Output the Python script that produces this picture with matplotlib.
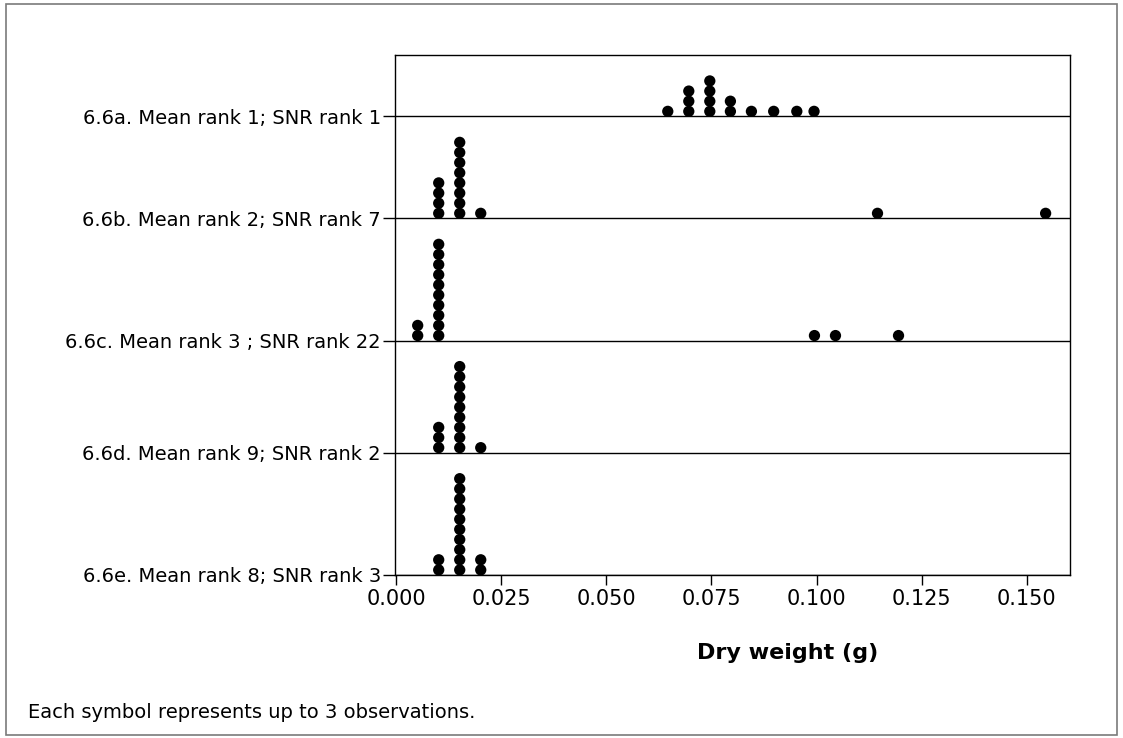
import matplotlib
matplotlib.use("Agg")
import matplotlib.pyplot as plt
from matplotlib.patches import Rectangle

# Row labels (top to bottom)
row_labels = [
    "6.6a. Mean rank 1; SNR rank 1",
    "6.6b. Mean rank 2; SNR rank 7",
    "6.6c. Mean rank 3 ; SNR rank 22",
    "6.6d. Mean rank 9; SNR rank 2",
    "6.6e. Mean rank 8; SNR rank 3",
]

# Dot positions (dry weight bins, g) and number of symbols stacked in each bin
a_x = [0.0646, 0.0696, 0.0746, 0.0795, 0.0845, 0.0898, 0.0953, 0.0994]
a_n = [1, 3, 4, 2, 1, 1, 1, 1]
b_x = [0.0101, 0.0151, 0.0201, 0.1145, 0.1545]
b_n = [4, 8, 1, 1, 1]
c_x = [0.0051, 0.0101, 0.0995, 0.1045, 0.1195]
c_n = [2, 10, 1, 1, 1]
d_x = [0.0101, 0.0151, 0.0201]
d_n = [3, 9, 1]
e_x = [0.0101, 0.0151, 0.0201]
e_n = [2, 10, 2]

x_ticks = [0.000, 0.025, 0.050, 0.075, 0.100, 0.125, 0.150]
x_label = "Dry weight (g)"
footnote = "Each symbol represents up to 3 observations."

rows = [(a_x, a_n), (b_x, b_n), (c_x, c_n), (d_x, d_n), (e_x, e_n)]

W, H, DPI = 1123, 738, 100
fig = plt.figure(figsize=(W / DPI, H / DPI), dpi=DPI)
fig.patch.set_facecolor("white")

# outer frame
fig.add_artist(Rectangle((6 / W, 3 / H), 1111 / W, 731 / H, transform=fig.transFigure,
                         fill=False, edgecolor="#7a7a7a", linewidth=1.2))

left, right, top, bottom = 395, 1070, 55, 575
ax = fig.add_axes([left / W, (H - bottom) / H, (right - left) / W, (bottom - top) / H])

# vertical layout: each row is as tall as its highest stack plus a margin
step = 10.2
margin = 21.0
heights = [max(n) * step + margin for _, n in rows]
total = sum(heights)
baselines = []
y = total
for h in heights:
    y -= h
    baselines.append(y)

for (xs, ns), base in zip(rows, baselines):
    px, py = [], []
    for x, n in zip(xs, ns):
        for k in range(n):
            px.append(x)
            py.append(base + step * (k + 0.5))
    ax.scatter(px, py, s=66, color="black", edgecolors="none", zorder=3, clip_on=False)
    ax.axhline(base, color="black", linewidth=1.0, zorder=2)

ax.set_xlim(-0.0003, 0.1603)
ax.set_ylim(0, total)

ax.set_yticks(baselines)
ax.set_yticklabels(row_labels, fontsize=14)
ax.tick_params(axis="y", direction="out", length=9, width=1.0, pad=1)

ax.set_xticks(x_ticks)
ax.set_xticklabels([f"{t:.3f}" for t in x_ticks], fontsize=15)
ax.tick_params(axis="x", direction="out", length=7, width=1.0, pad=3)

for s in ax.spines.values():
    s.set_linewidth(1.0)
    s.set_color("black")

fig.text(788 / W, 1 - 653 / H, x_label, ha="center", va="center",
         fontsize=16, fontweight="bold")
fig.text(28 / W, 1 - 712 / H, footnote, ha="left", va="center", fontsize=14)

fig.savefig("out.png", dpi=DPI)
